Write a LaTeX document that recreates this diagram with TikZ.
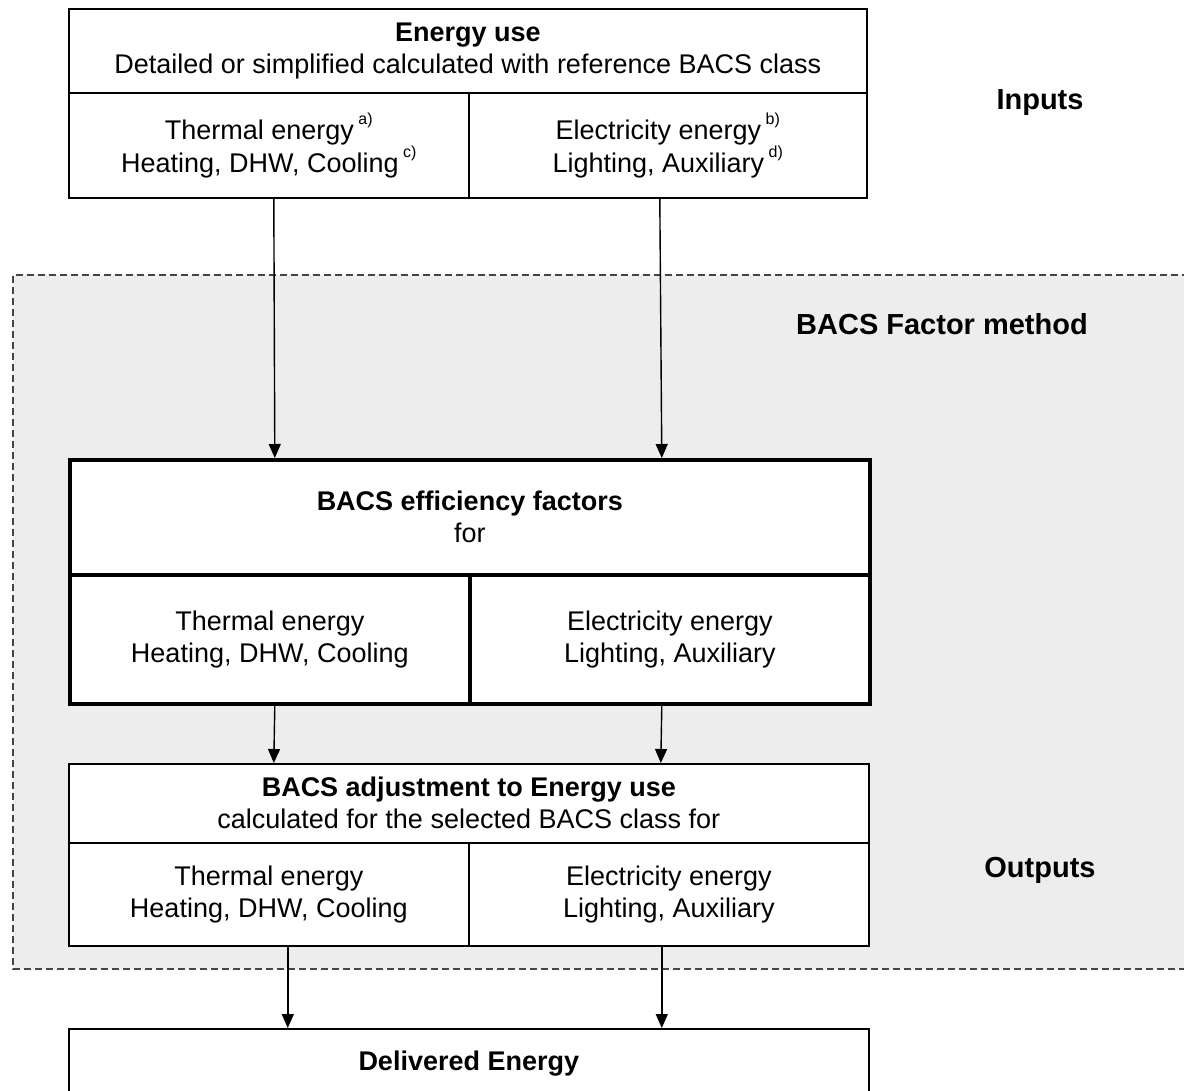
\documentclass[tikz,border=0pt]{standalone}
\usepackage{fontspec}
\setmainfont{Liberation Sans}
\usetikzlibrary{arrows.meta}
\definecolor{zonefill}{HTML}{EDEDED}
\definecolor{zoneline}{HTML}{454545}
\newcommand{\notemark}[1]{\,\raisebox{0.55em}{\fontsize{16}{16}\selectfont #1}}
\begin{document}
\begin{tikzpicture}[x=1pt,y=-1pt,
  txt/.style={font=\fontsize{27}{32}\selectfont},
  cell/.style={txt, draw, line width=1.6pt, fill=white, anchor=north west,
    inner sep=0pt, align=center},
  heavy/.style={cell, line width=3.6pt},
  side/.style={font=\fontsize{29}{32}\selectfont\bfseries},
  arr/.style={-{Triangle[length=14pt,width=12pt]}, line width=1.4pt}]
\useasboundingbox (0,0) rectangle (1184,1091);

% method zone: grey field with dashed border, open to the right
\fill[zonefill] (13,275) rectangle (1200,969);
\draw[zoneline, line width=1.5pt, dash pattern=on 7pt off 4pt]
  (1200,275) -- (13,275) -- (13,969) -- (1200,969);

% inputs
\node[cell, minimum width=798pt, minimum height=84pt] (eu) at (68,8)
  {\textbf{Energy use}\\Detailed or simplified calculated with reference BACS class};
\node[cell, minimum width=400pt, minimum height=105pt] (eut) at (68,92)
  {Thermal energy\notemark{a)}\\Heating, DHW, Cooling\notemark{c)}};
\node[cell, minimum width=398pt, minimum height=105pt] (eue) at (468,92)
  {Electricity energy\notemark{b)}\\Lighting, Auxiliary\notemark{d)}};

% efficiency factors
\node[heavy, minimum width=800pt, minimum height=115pt] (bf) at (68,458)
  {\textbf{BACS efficiency factors}\\for};
\node[heavy, minimum width=400pt, minimum height=129pt] (bft) at (68,573)
  {Thermal energy\\Heating, DHW, Cooling};
\node[heavy, minimum width=400pt, minimum height=129pt] (bfe) at (468,573)
  {Electricity energy\\Lighting, Auxiliary};

% adjustment
\node[cell, minimum width=800pt, minimum height=79pt] (ad) at (68,763)
  {\textbf{BACS adjustment to Energy use}\\calculated for the selected BACS class for};
\node[cell, minimum width=400pt, minimum height=103pt] (adt) at (68,842)
  {Thermal energy\\Heating, DHW, Cooling};
\node[cell, minimum width=400pt, minimum height=103pt] (ade) at (468,842)
  {Electricity energy\\Lighting, Auxiliary};

% output
\node[cell, minimum width=800pt, minimum height=70pt] (de) at (68,1028)
  {\textbf{Delivered Energy}};

% side labels
\node[side] (lin) at (1040,103) {Inputs};
\node[side] (lfm) at (942,324) {BACS Factor method};
\node[side] (lout) at (1040,870) {Outputs};

% flows
\draw[arr] ([xshift=5pt]eut.south) -- ([xshift=5pt]bft.north |- bf.north);
\draw[arr] ([xshift=-8pt]eue.south) -- ([xshift=-8pt]bfe.north |- bf.north);
\draw[arr] ([xshift=5pt]bft.south) -- ([xshift=5pt]adt.north |- ad.north);
\draw[arr] ([xshift=-8pt]bfe.south) -- ([xshift=-8pt]ade.north |- ad.north);
\draw[arr] ([xshift=19pt]adt.south) -- ([xshift=19pt]de.north -| adt.south);
\draw[arr] ([xshift=-7pt]ade.south) -- ([xshift=-7pt]de.north -| ade.south);
\end{tikzpicture}
\end{document}
